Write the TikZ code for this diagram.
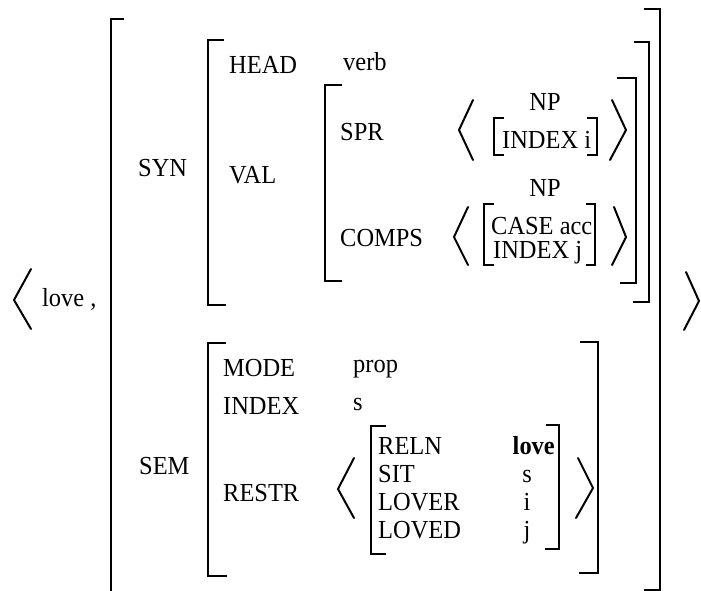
\documentclass[tikz,border=0pt]{standalone}
\usepackage{fontspec}
\setmainfont{Liberation Serif}[FakeStretch=0.94]
\begin{document}
\begin{tikzpicture}[x=1pt,y=-1pt,
  brk/.style={line width=2.8pt, line join=miter},
  sbrk/.style={line width=2.6pt, line join=miter},
  ang/.style={line width=2pt, line join=miter, line cap=round},
  lbl/.style={anchor=base west, inner sep=0pt, font=\fontsize{26}{26}\selectfont},
  lblc/.style={lbl, anchor=base},
  lble/.style={lbl, anchor=base east}]
\useasboundingbox (0,0) rectangle (701,591);
% square brackets
\draw[brk] (124,19) -- (111,19) -- (111,591);
\draw[brk] (644,9) -- (660,9) -- (660,590) -- (644,590);
\draw[brk] (224,40) -- (208,40) -- (208,305) -- (226,305);
\draw[brk] (634,42) -- (649,42) -- (649,302) -- (633,302);
\draw[brk] (342,85) -- (325,85) -- (325,281) -- (342,281);
\draw[brk] (617,78) -- (636,78) -- (636,283) -- (620,283);
\draw[brk] (226,343) -- (208,343) -- (208,576) -- (227,576);
\draw[brk] (580,342) -- (598,342) -- (598,573) -- (579,573);
\draw[sbrk] (386,426) -- (371,426) -- (371,554) -- (386,554);
\draw[sbrk] (546,425) -- (559,425) -- (559,549) -- (545,549);
\draw[sbrk] (504,118) -- (494,118) -- (494,155) -- (504,155);
\draw[sbrk] (587,118) -- (597,118) -- (597,155) -- (587,155);
\draw[sbrk] (494,204) -- (484,204) -- (484,265) -- (494,265);
\draw[sbrk] (586,204) -- (595,204) -- (595,265) -- (586,265);
% angle brackets
\draw[ang] (31,269) -- (14,300) -- (31,329);
\draw[ang] (686,272) -- (699,301) -- (684,330);
\draw[ang] (473,100) -- (459,130) -- (473,160);
\draw[ang] (612,100) -- (626,130) -- (610,160);
\draw[ang] (468,207) -- (454,237) -- (468,265);
\draw[ang] (614,207) -- (626,237) -- (612,265);
\draw[ang] (354,458) -- (338,489) -- (354,518);
\draw[ang] (578,458) -- (593,488) -- (576,518);
% texts
\node[lbl] (word) at (42,306) {love ,};
\node[lbl] (syn) at (138,176) {SYN};
\node[lbl] (head) at (229,74) {HEAD};
\node[lbl] (verb) at (343,71) {verb};
\node[lbl] (val) at (229,183) {VAL};
\node[lbl] (spr) at (340,141) {SPR};
\node[lbl] (comps) at (340,246) {COMPS};
\node[lblc] (np1) at (545,111) {NP};
\node[lbl] (idxi) at (502,148) {INDEX i};
\node[lblc] (np2) at (545,196) {NP};
\node[lbl] (case) at (491,234) {CASE acc};
\node[lbl] (idxj) at (493,258) {INDEX j};
\node[lbl] (sem) at (139,474) {SEM};
\node[lbl] (mode) at (223,376) {MODE};
\node[lbl] (prop) at (353,372) {prop};
\node[lbl] (index) at (223,414) {INDEX};
\node[lbl] (sval) at (353,410) {s};
\node[lbl] (restr) at (223,501) {RESTR};
\node[lbl] (reln) at (378,454) {RELN};
\node[lbl] (sit) at (378,482) {SIT};
\node[lbl] (lover) at (378,510) {LOVER};
\node[lbl] (loved) at (378,538) {LOVED};
\node[lble] (relnv) at (555,454) {\bfseries love};
\node[lblc] (sitv) at (527,482) {s};
\node[lblc] (loverv) at (527,510) {i};
\node[lblc] (lovedv) at (527,538) {j};
\end{tikzpicture}
\end{document}
